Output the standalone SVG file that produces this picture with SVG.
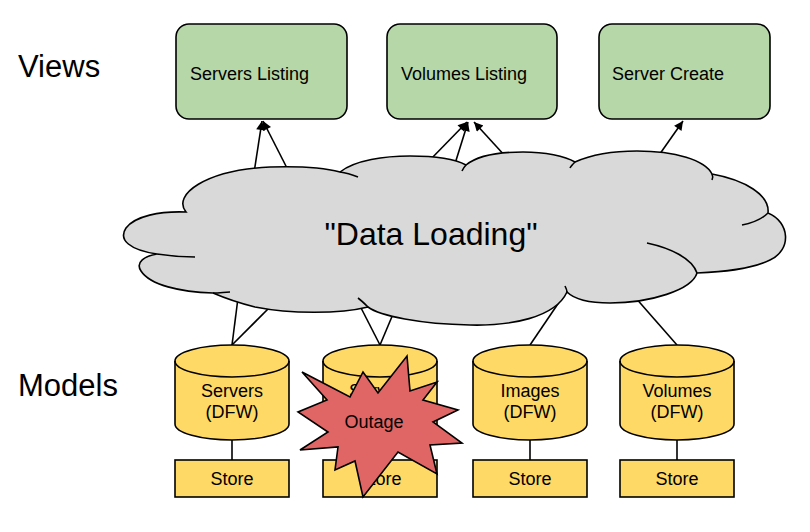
<svg xmlns="http://www.w3.org/2000/svg" width="810" height="532" viewBox="0 0 810 532">
<style>
text{font-family:"Liberation Sans",Arial,Helvetica,sans-serif;fill:#000}
.view{fill:#b6d7a8;stroke:#000;stroke-width:1.6}
.cyl{fill:#ffd966;stroke:#000;stroke-width:1.6}
.edge{fill:none;stroke:#000;stroke-width:1.6}
.cloud{fill:#d9d9d9;stroke:#000;stroke-width:1.6}
.tail{fill:none;stroke:#000;stroke-width:1.6}
.lbl{font-size:31px}
.vt{font-size:18px}
.mt{font-size:18px;text-anchor:middle}
</style>
<defs>
<marker id="arrow" viewBox="0 0 10 10" refX="10" refY="5" markerWidth="11" markerHeight="9" markerUnits="userSpaceOnUse" orient="auto">
<path d="M0,0 L10,5 L0,10 z" fill="#000"/>
</marker>
</defs>
<rect width="810" height="532" fill="#fff"/>

<g id="label-views"><text class="lbl" x="18" y="77">Views</text></g>
<g id="label-models"><text class="lbl" x="18" y="396">Models</text></g>

<g id="connectors">
<line class="edge" x1="254" y1="173" x2="262" y2="121" marker-end="url(#arrow)"/>
<line class="edge" x1="289" y1="172" x2="263" y2="121" marker-end="url(#arrow)"/>
<line class="edge" x1="428" y1="162" x2="467" y2="122" marker-end="url(#arrow)"/>
<line class="edge" x1="454" y1="167" x2="468" y2="122" marker-end="url(#arrow)"/>
<line class="edge" x1="506" y1="157" x2="474" y2="122" marker-end="url(#arrow)"/>
<line class="edge" x1="657" y1="158" x2="683" y2="121" marker-end="url(#arrow)"/>
<line class="edge" x1="232" y1="345" x2="238" y2="298"/>
<line class="edge" x1="232" y1="345" x2="272" y2="305"/>
<line class="edge" x1="380" y1="345" x2="358" y2="302"/>
<line class="edge" x1="380" y1="345" x2="396" y2="307"/>
<line class="edge" x1="530" y1="345" x2="568" y2="289"/>
<line class="edge" x1="677" y1="345" x2="634" y2="296"/>
<line class="edge" x1="232" y1="440" x2="232" y2="460"/>
<line class="edge" x1="380" y1="440" x2="380" y2="460"/>
<line class="edge" x1="530" y1="440" x2="530" y2="460"/>
<line class="edge" x1="677" y1="440" x2="677" y2="460"/>
</g>

<g id="view-servers-listing">
<rect class="view" x="176" y="24" width="171" height="95" rx="13"/>
<text class="vt" x="190" y="80">Servers Listing</text>
</g>
<g id="view-volumes-listing">
<rect class="view" x="387" y="24" width="170" height="95" rx="13"/>
<text class="vt" x="401" y="80">Volumes Listing</text>
</g>
<g id="view-server-create">
<rect class="view" x="599" y="24" width="171" height="95" rx="13"/>
<text class="vt" x="612" y="80">Server Create</text>
</g>

<g id="data-loading">
<path class="cloud" d="M186,212 C172,195 205,170 270,167 C300,166 325,168 340,172 C355,160 385,156 410,156 C435,156 455,159 466,165 C478,155 500,152 523,152 C545,152 565,156 575,162 C595,153 615,151 637,151 C675,151 705,160 712,174 C745,180 770,195 768,213 C790,222 792,250 770,260 C750,270 720,272 697,273 C692,290 650,303 610,303 C590,303 575,300 567,292 C555,318 510,326 470,325 C420,324 380,316 368,307 C340,314 290,314 255,307 C235,302 220,296 213,293 C180,292 150,285 141,271 C135,262 145,256 157,254 C130,250 118,240 126,228 C135,216 160,211 186,212 Z"/>
<path class="tail" d="M340,172 C348,173 353,175 358,177"/>
<path class="tail" d="M466,165 C464,167 463,169 462,171"/>
<path class="tail" d="M575,162 C573,164 571,166 570,168"/>
<path class="tail" d="M712,174 C713,176 713,178 712,180"/>
<path class="tail" d="M768,213 C762,219 752,223 742,225"/>
<path class="tail" d="M647,243 C670,248 692,258 697,273"/>
<path class="tail" d="M567,292 C567,290 566,288 565,286"/>
<path class="tail" d="M368,307 C365,304 362,301 358,298"/>
<path class="tail" d="M157,254 C170,256 182,257 195,257"/>
<path class="tail" d="M213,293 C220,293 225,292 230,292"/>
<text x="431" y="245" font-size="32" text-anchor="middle">"Data Loading"</text>
</g>

<g id="model-servers-dfw" transform="translate(232,0)">
<path class="cyl" d="M-57,361 A57,16 0 0 1 57,361 L57,424 A57,16 0 0 1 -57,424 Z"/>
<path class="tail" d="M-57,361 A57,16 0 0 0 57,361"/>
<text class="mt" x="0" y="397">Servers</text>
<text class="mt" x="0" y="418">(DFW)</text>
</g>
<g id="store-servers-dfw" transform="translate(232,0)">
<rect class="cyl" x="-57" y="460" width="114" height="37"/>
<text class="mt" x="0" y="485">Store</text>
</g>

<g id="model-servers-2" transform="translate(380,0)">
<path class="cyl" d="M-57,361 A57,16 0 0 1 57,361 L57,424 A57,16 0 0 1 -57,424 Z"/>
<path class="tail" d="M-57,361 A57,16 0 0 0 57,361"/>
<text class="mt" x="0" y="397">Servers</text>
</g>
<g id="store-servers-2" transform="translate(380,0)">
<rect class="cyl" x="-57" y="460" width="114" height="37"/>
<text class="mt" x="0" y="485">Store</text>
</g>

<g id="model-images-dfw" transform="translate(530,0)">
<path class="cyl" d="M-57,361 A57,16 0 0 1 57,361 L57,424 A57,16 0 0 1 -57,424 Z"/>
<path class="tail" d="M-57,361 A57,16 0 0 0 57,361"/>
<text class="mt" x="0" y="397">Images</text>
<text class="mt" x="0" y="418">(DFW)</text>
</g>
<g id="store-images-dfw" transform="translate(530,0)">
<rect class="cyl" x="-57" y="460" width="114" height="37"/>
<text class="mt" x="0" y="485">Store</text>
</g>

<g id="model-volumes-dfw" transform="translate(677,0)">
<path class="cyl" d="M-57,361 A57,16 0 0 1 57,361 L57,424 A57,16 0 0 1 -57,424 Z"/>
<path class="tail" d="M-57,361 A57,16 0 0 0 57,361"/>
<text class="mt" x="0" y="397">Volumes</text>
<text class="mt" x="0" y="418">(DFW)</text>
</g>
<g id="store-volumes-dfw" transform="translate(677,0)">
<rect class="cyl" x="-57" y="460" width="114" height="37"/>
<text class="mt" x="0" y="485">Store</text>
</g>

<g id="outage">
<polygon fill="#e06666" stroke="#000" stroke-width="1.6" stroke-linejoin="miter" points="407,356 410,391 437,382 423,400 458,410 433,422 462,443 430,445 437,474 398,452 363,497 355,461 335,470 338,447 300,450 328,432 298,412 327,400 302,372 350,397 363,372 378,393"/>
<text x="374" y="428" font-size="18" text-anchor="middle">Outage</text>
</g>
</svg>
